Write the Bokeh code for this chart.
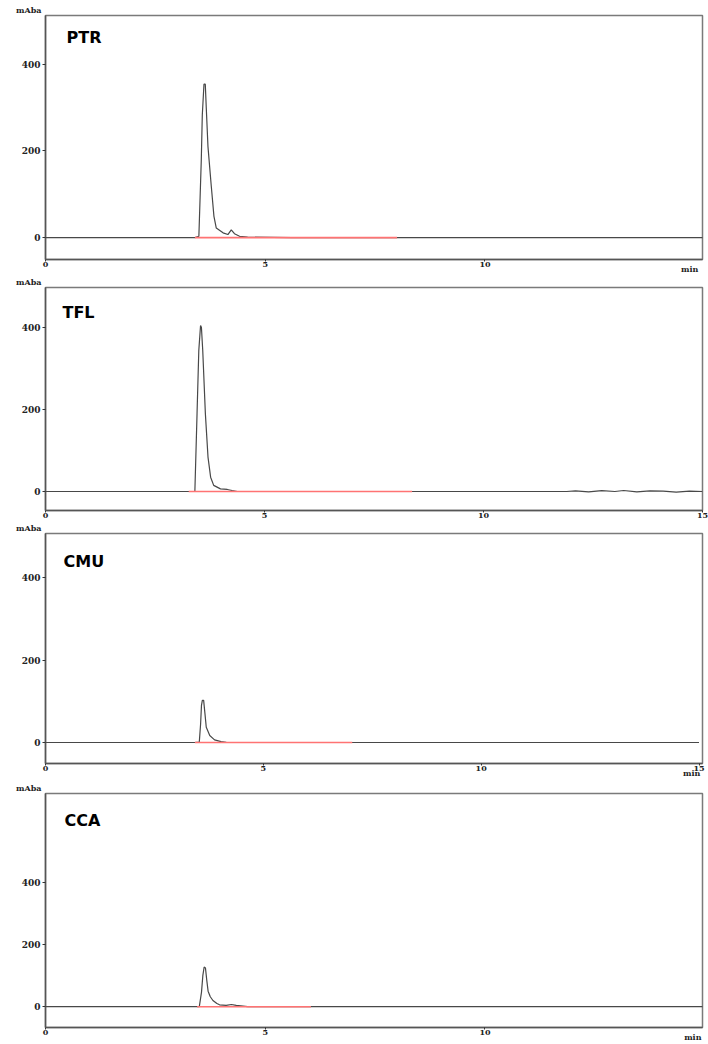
from bokeh.plotting import figure
from bokeh.layouts import column
from bokeh.models import Range1d, FixedTicker, Label, LinearAxis
from bokeh.embed import file_html
from bokeh.resources import INLINE

# ---------------- data (min, mAbs) ----------------
ptr_t = [0, 3.40, 3.49, 3.545, 3.568, 3.606, 3.636, 3.659, 3.697, 3.773, 3.833, 3.886,
         4.04, 4.15, 4.227, 4.30, 4.416, 4.60, 5.60, 15.0]
ptr_s = [0, 0, 3, 179, 283, 354, 354, 298, 210, 118, 49, 22,
         11, 7, 18, 9, 3, 1, 0, 0]
ptr_base = [3.40, 8.00]

tfl_t = [0, 3.41, 3.46, 3.50, 3.54, 3.56, 3.59, 3.65, 3.71, 3.77, 3.84, 3.995, 4.15, 4.26, 4.38,
         11.9, 12.1, 12.4, 12.7, 13.0, 13.2, 13.5, 13.8, 14.1, 14.4, 14.7, 15.0]
tfl_s = [0, 0, 190, 344, 405, 400, 344, 190, 84, 35, 15, 6.5, 5, 2.4, 0,
         0, 1.5, -1, 2, 0, 2.5, -1, 1.5, 1, -1.5, 1, 0]
tfl_base = [3.27, 8.37]

cmu_t = [0, 3.42, 3.53, 3.56, 3.58, 3.60, 3.63, 3.66, 3.69, 3.77, 3.88, 4.03, 4.15, 4.56, 15.0]
cmu_s = [0, 0, 1, 45, 90, 102, 102, 70, 37, 17, 6.5, 2, 0.5, 0, 0]
cmu_base = [3.43, 7.04]

cca_t = [0, 3.50, 3.55, 3.58, 3.61, 3.64, 3.67, 3.70, 3.75, 3.81, 3.90, 3.96, 4.11, 4.23,
         4.34, 4.60, 15.0]
cca_s = [0, 0, 47, 100, 128, 125, 85, 50, 32, 20, 10, 6, 4, 7, 4, 0, 0]
cca_base = [3.45, 6.04]

names = ["PTR", "TFL", "CMU", "CCA"]
x_ticks = [0, 5, 10, 15]
y_ticks = [0, 200, 400]
y_unit = "mAba"
x_unit = "min"

TICK_FONT = "DejaVu Serif"
GRAY = "#7a7a7a"
TXT = "#222222"


def style_unit_axis(ax, size):
    ax.major_tick_out = 0
    ax.major_tick_in = 0
    ax.minor_tick_line_color = None
    ax.axis_line_color = None
    ax.major_label_text_font = TICK_FONT
    ax.major_label_text_font_style = "bold"
    ax.major_label_text_font_size = size
    ax.major_label_text_color = TXT


def panel(name, t, s, base, x_end, y_rng, height, b_top, b_bot, b_left, b_right,
          title_xy, min_x=None):
    p = figure(width=708, height=height, x_range=Range1d(0, x_end),
               y_range=Range1d(*y_rng), output_backend="svg", toolbar_location=None,
               min_border=0, min_border_top=b_top, min_border_bottom=b_bot,
               min_border_left=b_left, min_border_right=b_right)
    p.grid.visible = False
    p.outline_line_color = GRAY
    p.outline_line_width = 1.5
    for ax in (p.xaxis[0], p.yaxis[0]):
        ax.axis_line_color = "#555555"
        ax.axis_line_width = 1.5
        ax.major_tick_line_color = "#333333"
        ax.major_tick_in = 0
        ax.minor_tick_line_color = None
        ax.major_label_text_font = TICK_FONT
        ax.major_label_text_font_style = "bold"
        ax.major_label_text_color = TXT
    p.xaxis[0].major_label_text_font_size = "8px"
    p.yaxis[0].major_label_text_font_size = "9px"
    p.xaxis[0].ticker = FixedTicker(ticks=x_ticks)
    p.yaxis[0].ticker = FixedTicker(ticks=y_ticks)
    p.xaxis[0].major_tick_out = 2
    p.xaxis[0].major_label_standoff = 0
    p.yaxis[0].major_tick_out = 3
    p.yaxis[0].major_label_standoff = 2

    p.line(t, s, line_color="#484848", line_width=1.2)
    p.line(base, [0, 0], line_color="#ff7373", line_width=1.6)

    p.add_layout(Label(x=title_xy[0], y=title_xy[1], x_units="screen", y_units="screen",
                       text=name, text_font="DejaVu Sans", text_font_style="bold",
                       text_font_size="16px", text_color="black", text_baseline="middle"))

    # y unit label ("mAba") just above the top-left corner of the frame
    lo, hi = y_rng
    uax = LinearAxis(ticker=FixedTicker(ticks=[hi]),
                     major_label_overrides={hi: y_unit + "\n "},
                     major_label_standoff=-23)
    style_unit_axis(uax, "8px")
    p.add_layout(uax, "left")

    # x unit label ("min") below the right end of the x axis
    if min_x is not None:
        xax = LinearAxis(ticker=FixedTicker(ticks=[min_x]),
                         major_label_overrides={min_x: x_unit},
                         major_label_standoff=-6)
        style_unit_axis(xax, "8px")
        p.add_layout(xax, "below")
    return p


p1 = panel(names[0], ptr_t, ptr_s, ptr_base, 14.95, (-50.6, 512.6), 276, 15, 16, 44, 6,
           (21, 222.5), min_x=14.66)
p2 = panel(names[1], tfl_t, tfl_s, tfl_base, 15.0, (-46.3, 497.6), 246, 11, 12, 45, 6,
           (17, 198))
p3 = panel(names[2], cmu_t, cmu_s, cmu_base, 15.08, (-50.9, 506.7), 259, 11, 18, 43, 0,
           (18, 202), min_x=14.83)
p4 = panel(names[3], cca_t, cca_s, cca_base, 14.95, (-67.2, 688.0), 263, 12, 15, 44, 0,
           (19, 207), min_x=14.73)

layout = column(p1, p2, p3, p4, spacing=0)
open("out.html", "w").write(file_html(layout, INLINE))
